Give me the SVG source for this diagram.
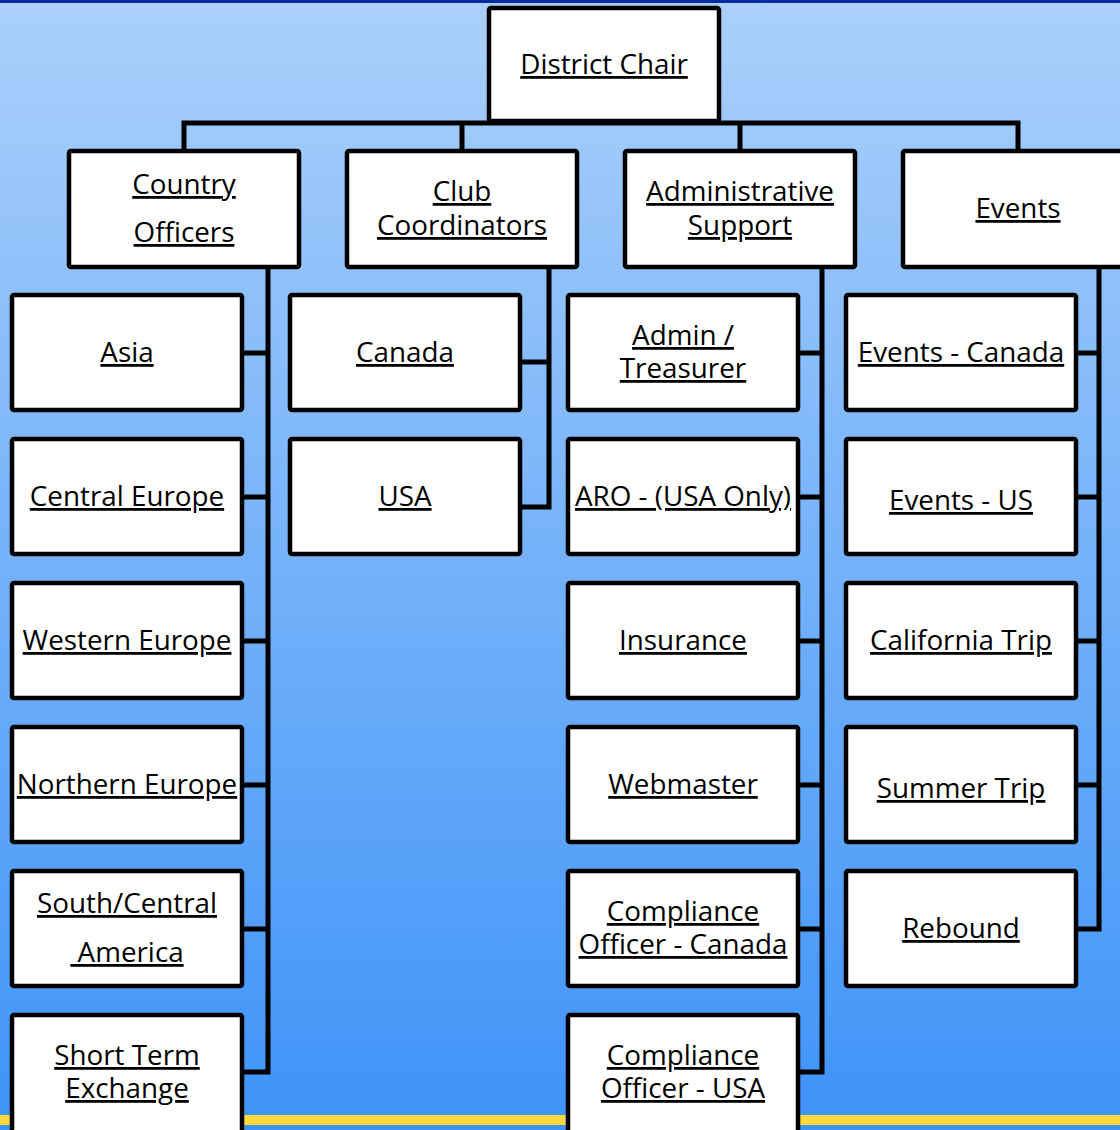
<svg xmlns="http://www.w3.org/2000/svg" width="1120" height="1130" viewBox="0 0 1120 1130">
<defs>
<linearGradient id="bg" x1="0" y1="0" x2="0" y2="1">
<stop offset="0" stop-color="#ABD0FB"/>
<stop offset="1" stop-color="#3E93F8"/>
</linearGradient>
<style>
.box{fill:#fff;stroke:#000;stroke-width:4.5}
.ln{fill:none;stroke:#000;stroke-width:5;stroke-linejoin:miter;stroke-linecap:square}
text{font-family:"Open Sans","Liberation Sans",sans-serif;font-size:27.8px;fill:#000;text-anchor:middle;text-decoration:underline;text-decoration-thickness:2.5px;text-decoration-skip-ink:none}
</style>
</defs>
<rect x="0" y="0" width="1120" height="1130" fill="url(#bg)"/>
<rect x="0" y="0" width="1120" height="3" fill="#0B2C9F"/>
<rect x="0" y="1115" width="1120" height="10" fill="#FFD83B"/>
<g id="connectors">
<path class="ln" d="M184 151 V123 H1018 V151 M462 123 V151 M740 123 V151"/>
<path class="ln" d="M268 267 V1072 M242 353 H268 M242 497 H268 M242 641 H268 M242 785 H268 M242 929 H268 M242 1072 H268"/>
<path class="ln" d="M549 267 V507 H520 M520 362 H549"/>
<path class="ln" d="M822 267 V1072 M798 353 H822 M798 497 H822 M798 641 H822 M798 785 H822 M798 929 H822 M798 1072 H822"/>
<path class="ln" d="M1099 267 V929 H1076 M1076 353 H1099 M1076 497 H1099 M1076 641 H1099 M1076 785 H1099"/>
</g>
<g id="district-chair"><rect class="box" x="489" y="8" width="230" height="113" rx="2"/><text x="604" y="74">District Chair</text></g>
<g id="country-officers"><rect class="box" x="69" y="151" width="230" height="116" rx="2"/><text x="184" y="194">Country</text><text x="184" y="242">Officers</text></g>
<g id="club-coordinators"><rect class="box" x="347" y="151" width="230" height="116" rx="2"/><text x="462" y="201">Club</text><text x="462" y="235">Coordinators</text></g>
<g id="administrative-support"><rect class="box" x="625" y="151" width="230" height="116" rx="2"/><text x="740" y="201">Administrative</text><text x="740" y="235">Support</text></g>
<g id="events"><rect class="box" x="903" y="151" width="230" height="116" rx="2"/><text x="1018" y="218">Events</text></g>

<g id="asia"><rect class="box" x="12" y="295" width="230" height="115" rx="2"/><text x="127" y="362">Asia</text></g>
<g id="central-europe"><rect class="box" x="12" y="439" width="230" height="115" rx="2"/><text x="127" y="506">Central Europe</text></g>
<g id="western-europe"><rect class="box" x="12" y="583" width="230" height="115" rx="2"/><text x="127" y="650">Western Europe</text></g>
<g id="northern-europe"><rect class="box" x="12" y="727" width="230" height="115" rx="2"/><text x="127" y="794">Northern Europe</text></g>
<g id="south-central-america"><rect class="box" x="12" y="871" width="230" height="115" rx="2"/><text x="127" y="913">South/Central</text><text x="127" y="962" xml:space="preserve"> America</text></g>
<g id="short-term-exchange"><rect class="box" x="12" y="1015" width="230" height="120" rx="2"/><text x="127" y="1065">Short Term</text><text x="127" y="1098">Exchange</text></g>

<g id="canada"><rect class="box" x="290" y="295" width="230" height="115" rx="2"/><text x="405" y="362">Canada</text></g>
<g id="usa"><rect class="box" x="290" y="439" width="230" height="115" rx="2"/><text x="405" y="506">USA</text></g>

<g id="admin-treasurer"><rect class="box" x="568" y="295" width="230" height="115" rx="2"/><text x="683" y="345">Admin /</text><text x="683" y="378">Treasurer</text></g>
<g id="aro"><rect class="box" x="568" y="439" width="230" height="115" rx="2"/><text x="683" y="506">ARO - (USA Only)</text></g>
<g id="insurance"><rect class="box" x="568" y="583" width="230" height="115" rx="2"/><text x="683" y="650">Insurance</text></g>
<g id="webmaster"><rect class="box" x="568" y="727" width="230" height="115" rx="2"/><text x="683" y="794">Webmaster</text></g>
<g id="compliance-canada"><rect class="box" x="568" y="871" width="230" height="115" rx="2"/><text x="683" y="921">Compliance</text><text x="683" y="954">Officer - Canada</text></g>
<g id="compliance-usa"><rect class="box" x="568" y="1015" width="230" height="120" rx="2"/><text x="683" y="1065">Compliance</text><text x="683" y="1098">Officer - USA</text></g>

<g id="events-canada"><rect class="box" x="846" y="295" width="230" height="115" rx="2"/><text x="961" y="362">Events - Canada</text></g>
<g id="events-us"><rect class="box" x="846" y="439" width="230" height="115" rx="2"/><text x="961" y="510">Events - US</text></g>
<g id="california-trip"><rect class="box" x="846" y="583" width="230" height="115" rx="2"/><text x="961" y="650">California Trip</text></g>
<g id="summer-trip"><rect class="box" x="846" y="727" width="230" height="115" rx="2"/><text x="961" y="798">Summer Trip</text></g>
<g id="rebound"><rect class="box" x="846" y="871" width="230" height="115" rx="2"/><text x="961" y="938">Rebound</text></g>
</svg>
